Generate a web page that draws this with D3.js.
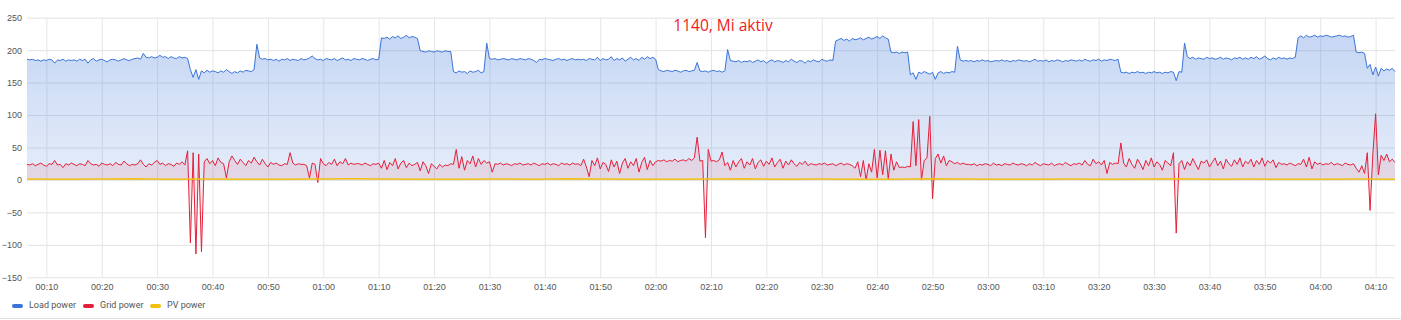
<!DOCTYPE html>
<html>
<head>
<meta charset="utf-8">
<script src="https://cdn.jsdelivr.net/npm/d3@7"></script>
<style>
	body { margin: 0; background: #fff; }
	svg { display: block; font-family: Roboto, "Noto Sans", sans-serif; }
</style>
</head>
<body>
<svg width="1401" height="320"></svg>
<script>
// Series data, one sample every 30 s starting 00:06:30
var startTime = new Date(2024, 0, 1, 0, 6, 30);
var stepSeconds = 30;
var pvStepSeconds = 390;

var loadPower = [
	186,185,186,184,185,183,185,184,186,185,180,185,184,186,183,185,184,185,183,186,
	184,186,180,185,187,183,185,186,184,182,185,186,185,183,185,187,185,184,186,187,
	188,186,195,189,188,190,188,189,192,189,190,187,190,188,187,190,188,189,187,170,
	158,170,155,168,165,169,166,168,167,165,168,166,170,167,164,167,165,168,166,169,
	168,167,170,209,188,186,187,185,186,184,186,183,186,185,187,184,186,185,184,187,
	185,186,188,191,187,185,186,184,187,186,185,187,184,186,188,185,186,184,187,186,
	185,187,186,184,186,187,185,186,219,218,220,217,221,219,222,218,220,223,219,221,
	220,218,199,198,197,199,198,197,199,198,197,199,198,198,167,165,168,166,167,164,
	168,166,167,169,165,167,211,187,186,187,185,186,187,186,185,187,186,185,187,186,
	185,187,186,184,181,186,185,187,186,185,184,186,187,185,186,184,186,187,185,186,
	185,186,184,187,186,185,189,184,187,185,186,190,184,187,185,188,183,186,189,185,
	187,184,189,186,190,187,189,186,170,168,167,169,168,167,169,168,166,168,169,167,
	168,169,181,168,167,168,166,168,169,167,168,166,168,201,184,183,182,184,181,183,
	182,184,181,183,185,182,184,180,183,185,182,184,183,181,184,182,186,183,181,184,
	183,180,184,182,185,183,182,186,184,183,185,184,214,216,218,215,217,214,218,216,
	217,219,216,218,220,217,219,221,218,222,219,217,197,196,197,195,197,196,197,162,
	165,155,166,164,167,165,163,166,155,165,167,164,166,165,167,166,206,185,183,184,
	183,184,182,184,183,185,183,184,182,183,184,183,185,183,184,182,184,183,185,184,
	183,184,182,184,186,183,184,183,185,182,184,183,185,184,182,184,183,185,184,183,
	185,183,186,184,183,185,184,186,183,185,184,186,185,184,186,166,165,166,164,166,
	165,167,165,166,164,166,165,167,165,166,164,166,165,167,166,153,167,166,211,190,
	187,189,186,188,187,186,189,187,188,186,187,189,186,188,187,185,188,187,189,186,
	188,186,189,187,190,186,188,191,187,185,188,186,189,187,188,186,188,187,189,219,
	222,219,223,220,221,223,220,222,221,223,222,220,221,222,223,221,222,220,221,223,
	197,196,197,195,172,178,162,174,160,172,168,171,169,172,167
];

var gridPower = [
	24,23,25,22,24,26,23,21,25,24,30,23,24,19,25,23,26,24,22,25,
	24,22,30,25,23,24,21,26,24,23,25,22,27,24,23,29,25,22,24,23,
	25,31,24,20,25,23,27,30,24,26,22,25,24,21,26,24,28,23,45,-97,
	42,-114,40,-111,28,33,25,30,22,34,27,25,3,28,37,30,24,32,27,22,
	30,26,35,28,23,32,25,20,27,24,26,23,22,25,24,42,26,23,25,24,
	24,22,3,26,24,-4,33,25,22,27,24,32,22,28,25,33,23,26,24,25,
	25,23,26,24,22,25,24,26,18,30,16,27,22,33,17,26,30,19,26,22,
	24,27,14,28,22,10,25,21,17,24,20,23,22,25,24,47,18,36,15,30,
	25,37,20,33,24,30,26,28,12,25,24,26,23,25,24,22,25,24,26,23,
	24,25,23,26,24,22,25,24,26,23,25,24,22,26,24,25,23,26,24,25,
	22,32,20,5,30,22,34,17,27,24,13,31,20,29,10,26,33,18,28,22,
	33,12,27,35,16,30,22,28,30,29,31,28,30,29,32,28,30,31,29,33,
	30,34,66,29,30,-89,47,29,30,28,31,43,22,27,15,30,20,28,33,18,
	28,23,33,17,27,31,21,29,24,34,20,27,32,18,29,23,31,25,21,27,
	24,29,22,25,24,23,25,24,26,23,24,25,22,24,26,23,25,24,22,18,
	28,5,30,0,25,12,47,3,46,8,45,2,40,15,28,19,20,19,21,20,
	90,22,93,0,30,34,98,-29,33,40,26,37,22,30,28,25,27,24,26,24,
	24,23,25,22,24,23,25,24,22,26,23,24,22,25,24,23,26,24,23,25,
	24,22,25,23,27,24,22,25,24,23,26,22,24,25,23,27,24,22,25,24,
	26,23,30,24,22,32,25,28,23,30,10,27,24,26,25,57,26,20,33,24,
	18,32,25,16,30,22,34,20,28,24,15,30,26,22,42,-82,25,30,16,28,
	22,33,24,16,29,26,31,20,27,34,22,29,17,32,25,21,31,24,34,20,
	29,25,32,20,30,24,34,21,30,26,31,19,27,24,25,23,26,24,22,25,
	24,32,20,35,17,28,24,26,23,25,24,27,23,25,24,22,26,24,23,25,
	18,12,22,10,42,-47,40,102,8,38,30,40,28,32,27
];

var pvPower = [
	1.5,1,1.5,2,1,1.5,1,1,1.5,2,
	1.5,1,1,1.5,1,2,1.5,1,1,1.5,
	2,1,1.5,1,1,2,1.5,1,1,1.5,
	1,1.5,2,1,1.5,1,1,1.5,1
];

var yTicks = [-150, -100, -50, 0, 50, 100, 150, 200, 250];
var seriesNames = ['Load power', 'Grid power', 'PV power'];
var seriesColors = ['#3a74d9', '#e5203a', '#f2c10f'];
var chartTitle = '1140, Mi aktiv';

// Frame
var plot_left = 27;
var plot_right = 1395;
var plot_top = 17.7;
var plot_bottom = 277.3;
var font_size = 9;

var svg = d3.select('svg');

function to_points(values, step)
{
	return values.map((v, i) => { return { t: new Date(+startTime + i * step * 1000), v: v }; });
}
var load_data = to_points(loadPower, stepSeconds);
var grid_data = to_points(gridPower, stepSeconds);
var pv_data = to_points(pvPower, pvStepSeconds);

var x = d3.scaleTime()
	.domain([startTime, load_data[load_data.length - 1].t])
	.range([plot_left, plot_right]);
var y = d3.scaleLinear()
	.domain([-150, 250])
	.range([plot_bottom, plot_top]);

// Gradient for the load area
var defs = svg.append('defs');
var grad = defs.append('linearGradient')
	.attr('id', 'load_fill')
	.attr('gradientUnits', 'userSpaceOnUse')
	.attr('x1', 0).attr('x2', 0)
	.attr('y1', y(225)).attr('y2', y(0));
grad.append('stop').attr('offset', 0).attr('stop-color', seriesColors[0]).attr('stop-opacity', 0.29);
grad.append('stop').attr('offset', 1).attr('stop-color', seriesColors[0]).attr('stop-opacity', 0.13);

// Grid lines and axes
var y_axis = svg.append('g')
	.attr('transform', 'translate(' + plot_left + ',0)')
	.call(d3.axisLeft(y).tickValues(yTicks).tickSize(-(plot_right - plot_left)).tickPadding(5));
y_axis.select('.domain').remove();
y_axis.selectAll('line').attr('stroke', '#e3e3e3');
y_axis.selectAll('text').attr('fill', '#555').attr('font-size', font_size);

var x_axis = svg.append('g')
	.attr('transform', 'translate(0,' + plot_bottom + ')')
	.call(d3.axisBottom(x)
		.ticks(d3.timeMinute.every(10))
		.tickFormat(d3.timeFormat('%H:%M'))
		.tickSize(-(plot_bottom - plot_top))
		.tickPadding(6));
x_axis.select('.domain').remove();
x_axis.selectAll('line').attr('stroke', '#e6e6e6');
x_axis.selectAll('text').attr('fill', '#555').attr('font-size', font_size);

// Areas
var load_area = d3.area().x(d => x(d.t)).y0(y(0)).y1(d => y(d.v));
var grid_area = d3.area().x(d => x(d.t)).y0(y(0)).y1(d => y(d.v));
var line = d3.line().x(d => x(d.t)).y(d => y(d.v));

svg.append('path')
	.datum(load_data)
	.attr('d', load_area)
	.attr('fill', 'url(#load_fill)');
svg.append('path')
	.datum(grid_data)
	.attr('d', grid_area)
	.attr('fill', seriesColors[1])
	.attr('fill-opacity', 0.1);

// Lines
svg.append('path')
	.datum(load_data)
	.attr('d', line)
	.attr('fill', 'none')
	.attr('stroke', seriesColors[0])
	.attr('stroke-width', 1);
svg.append('path')
	.datum(grid_data)
	.attr('d', line)
	.attr('fill', 'none')
	.attr('stroke', seriesColors[1])
	.attr('stroke-width', 1);
svg.append('path')
	.datum(pv_data)
	.attr('d', line)
	.attr('fill', 'none')
	.attr('stroke', seriesColors[2])
	.attr('stroke-width', 1.5);

// Title
svg.append('text')
	.attr('x', 723)
	.attr('y', 31)
	.attr('text-anchor', 'middle')
	.attr('font-family', '"Open Sans", "Noto Sans", sans-serif')
	.attr('font-size', 15.5)
	.attr('fill', '#ee1c25')
	.text(chartTitle);

// Legend
var legend_x = [12, 83, 150];
var legend = svg.selectAll('.legend')
	.data(seriesNames)
	.enter().append('g')
	.attr('class', 'legend')
	.attr('transform', (d, i) => 'translate(' + legend_x[i] + ',306)');
legend.append('rect')
	.attr('x', 0)
	.attr('y', -2)
	.attr('width', 11)
	.attr('height', 4)
	.attr('rx', 2)
	.attr('fill', (d, i) => seriesColors[i]);
legend.append('text')
	.attr('x', 17)
	.attr('y', 0)
	.attr('dominant-baseline', 'middle')
	.attr('font-size', font_size)
	.attr('fill', '#555')
	.text(d => d);

// Bottom separator
svg.append('line')
	.attr('x1', 0).attr('x2', 1401)
	.attr('y1', 318.5).attr('y2', 318.5)
	.attr('stroke', '#e0e0e0');
</script>
</body>
</html>
